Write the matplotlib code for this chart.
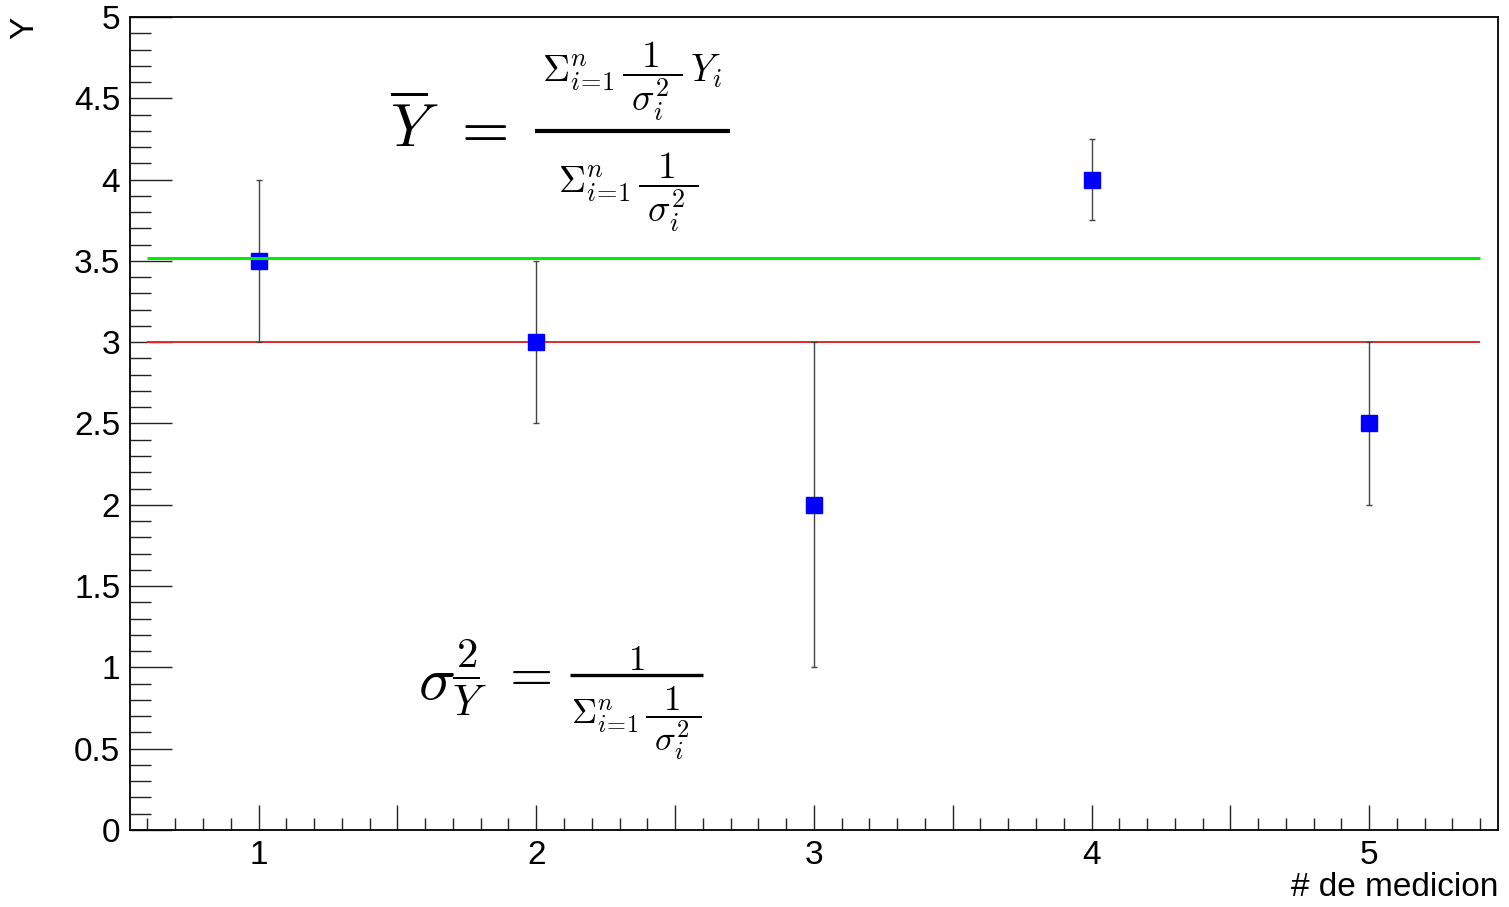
import numpy as np
import matplotlib
matplotlib.use("Agg")
import matplotlib.pyplot as plt
from matplotlib.lines import Line2D
from matplotlib.ticker import MultipleLocator, FuncFormatter

# Measurements and their uncertainties
medicion = [1, 2, 3, 4, 5]
valores = [3.5, 3.0, 2.0, 4.0, 2.5]
errores = [0.5, 0.5, 1.0, 0.25, 0.5]
valor_referencia = 3.0
linea_xmin, linea_xmax = 0.6, 5.4

# Weighted mean with weights 1/sigma^2
w = 1.0 / np.array(errores) ** 2
media_pesada = np.sum(w * np.array(valores)) / np.sum(w)

plt.rcParams["font.family"] = ["Liberation Sans", "DejaVu Sans"]
plt.rcParams["mathtext.fontset"] = "cm"

W, H = 1509, 907
fig = plt.figure(figsize=(W / 100, H / 100), dpi=100)
ax = fig.add_axes([130 / W, 1 - 830 / H, 1368 / W, 813 / H])


def fx(px):
    return px / W


def fy(py):
    return 1 - py / H


ax.hlines(valor_referencia, linea_xmin, linea_xmax, color="#e0282a", lw=1.4, zorder=2)
ax.errorbar(medicion, valores, yerr=errores, fmt="none", ecolor="#444444",
            elinewidth=1.0, capsize=2, capthick=1.0, zorder=3)
ax.plot(medicion, valores, ls="none", marker="s", ms=11.5, mfc="#0000ff",
        mec="#0000ff", zorder=4)
ax.hlines(media_pesada, linea_xmin, linea_xmax, color="#00ee00", lw=2.2, zorder=5)

ax.set_xlim(0.537, 5.464)
ax.set_ylim(0, 5)

for s in ["left", "bottom", "top", "right"]:
    ax.spines[s].set_linewidth(1.3)

ax.xaxis.set_major_locator(MultipleLocator(0.5))
ax.xaxis.set_minor_locator(MultipleLocator(0.1))
ax.xaxis.set_major_formatter(FuncFormatter(
    lambda v, p: f"{int(round(v))}" if abs(v - round(v)) < 1e-6 else ""))
ax.yaxis.set_major_locator(MultipleLocator(0.5))
ax.yaxis.set_minor_locator(MultipleLocator(0.1))
ax.yaxis.set_major_formatter(FuncFormatter(lambda v, p: f"{v:g}"))

ax.tick_params(axis="x", which="major", direction="in", length=18, width=1.0,
               labelsize=24, pad=7, color="#222222")
ax.tick_params(axis="x", which="minor", direction="in", length=9, width=1.0,
               color="#222222")
ax.tick_params(axis="y", which="major", direction="in", length=30, width=1.0,
               labelsize=24, pad=7, color="#222222")
ax.tick_params(axis="y", which="minor", direction="in", length=15, width=1.0,
               color="#222222")

fig.text(fx(25), fy(28), "Y", rotation=90, ha="center", va="center", fontsize=24)
fig.text(fx(1498), fy(888), "# de medicion", ha="right", va="center", fontsize=24)

# Weighted mean formula
sum_inv_var = r"\Sigma_{i\!=\!1}^{n}\,\dfrac{1}{\;\sigma_i^2\;}"
fig.text(fx(390), fy(147), r"$\overline{Y}$", ha="left", va="baseline", fontsize=44)
fig.text(fx(479), fy(131), r"$=$", ha="center", va="center", fontsize=44)
fig.add_artist(Line2D([fx(535), fx(730)], [fy(131), fy(131)], color="black",
                      lw=3.0, solid_capstyle="butt", transform=fig.transFigure))
fig.text(fx(632), fy(123), "$" + sum_inv_var + r"\,Y_i$", ha="center",
         va="bottom", fontsize=27)
fig.text(fx(628), fy(151), "$" + sum_inv_var + "$", ha="center", va="top",
         fontsize=27)

# Variance of the weighted mean
fig.text(fx(418), fy(677), r"$\sigma_{\overline{Y}}^{2}$", ha="left",
         va="center", fontsize=44)
fig.text(fx(526), fy(675), r"$=$", ha="center", va="center", fontsize=40)
fig.add_artist(Line2D([fx(570), fx(703)], [fy(675), fy(675)], color="black",
                      lw=2.4, solid_capstyle="butt", transform=fig.transFigure))
fig.text(fx(636), fy(677), r"$1$", ha="center", va="bottom", fontsize=25)
fig.text(fx(636), fy(684), "$" + sum_inv_var + "$", ha="center", va="top",
         fontsize=25)

fig.savefig("out.png", dpi=100)
